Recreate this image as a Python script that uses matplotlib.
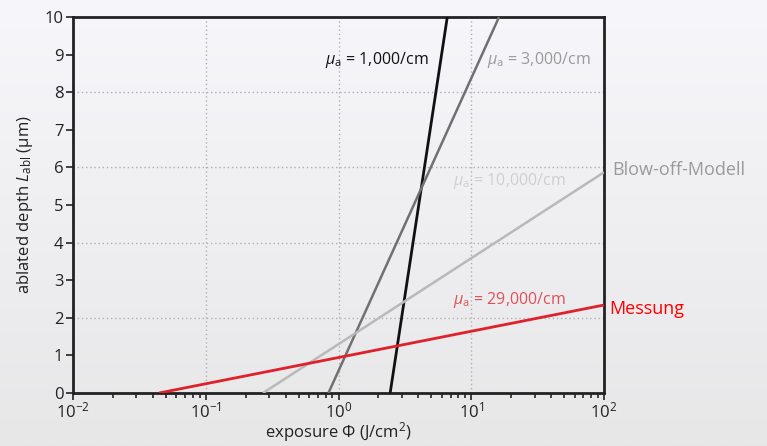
import numpy as np
import matplotlib
matplotlib.use("Agg")
import matplotlib.pyplot as plt
from matplotlib.colors import LinearSegmentedColormap
from matplotlib.ticker import LogLocator, NullFormatter

# Blow-off model lines: (exposure, depth) endpoints
mu_labels = ["1,000", "3,000", "10,000", "29,000"]
phi_start = [2.45, 0.84, 0.27, 0.0445]
depth_start = [0.0, 0.0, 0.0, 0.0]
phi_end = [6.6, 16.2, 100.0, 100.0]
depth_end = [10.0, 10.0, 5.87, 2.34]
line_colors = ["#111111", "#707070", "#b9b9b9", "#e0202a"]
text_colors = ["#111111", "#9a9a9a", "#cfcfcf", "#e0505a"]
# label anchor (exposure, depth) where each mu_a text starts
label_phi = [0.79, 13.1, 7.3, 7.3]
label_depth = [8.86, 8.86, 5.64, 2.47]

x_ticks = [1e-2, 1e-1, 1e0, 1e1, 1e2]
x_ticklabels = ["$10^{-2}$", "$10^{-1}$", "$10^{0}$", "$10^{1}$", "$10^{2}$"]
y_ticks = list(range(0, 11))

plt.rcParams["font.family"] = ["Open Sans", "DejaVu Sans"]
plt.rcParams["mathtext.fontset"] = "custom"
plt.rcParams["mathtext.rm"] = "Open Sans"
plt.rcParams["mathtext.it"] = "Open Sans:italic"

fig = plt.figure(figsize=(7.67, 4.46), dpi=100)

# soft vertical background gradient
bg = fig.add_axes([0, 0, 1, 1], zorder=-10)
grad = np.linspace(0, 1, 256).reshape(-1, 1)
cmap_bg = LinearSegmentedColormap.from_list("bg", ["#f7f7fb", "#e7e7e8"])
bg.imshow(grad, cmap=cmap_bg, aspect="auto", extent=[0, 1, 0, 1], origin="upper")
bg.axis("off")

ax = fig.add_axes([73 / 767, 1 - 393 / 446, 531 / 767, 376 / 446])
ax.set_facecolor("none")
ax.set_xscale("log")
ax.set_xlim(1e-2, 1e2)
ax.set_ylim(0, 10)

for i in range(len(mu_labels)):
    ax.plot([phi_start[i], phi_end[i]], [depth_start[i], depth_end[i]],
            color=line_colors[i], lw=2.0 if i in (0, 3) else 1.8,
            solid_capstyle="butt", zorder=3)
    ax.text(label_phi[i], label_depth[i],
            r"$\mu_{\mathrm{a}}$" + f" = {mu_labels[i]}/cm",
            color=text_colors[i], fontsize=11.5, ha="left", va="center")

# grid
for gx in [1e-1, 1e0, 1e1]:
    ax.axvline(gx, color="#b0b0b0", lw=1, ls=(0, (1, 2)), zorder=1)
for gy in [2, 4, 6, 8]:
    ax.axhline(gy, color="#b0b0b0", lw=1, ls=(0, (1, 2)), zorder=1)

ax.set_xticks(x_ticks)
ax.set_xticklabels(x_ticklabels)
ax.xaxis.set_minor_locator(LogLocator(base=10, subs=np.arange(2, 10)))
ax.xaxis.set_minor_formatter(NullFormatter())
ax.set_yticks(y_ticks)
ax.tick_params(axis="both", which="major", direction="out", length=5, width=1.2,
               labelsize=12, colors="#222222", pad=2)
ax.tick_params(axis="x", which="major", pad=1)
ax.tick_params(axis="x", which="minor", direction="out", length=3.5, width=1.2,
               colors="#222222")
for s in ax.spines.values():
    s.set_linewidth(2)
    s.set_color("#222222")

ax.set_xlabel(r"exposure $\mathit{\Phi}$ (J/cm$^2$)", fontsize=12, color="#222222",
              labelpad=-1)
ax.set_ylabel(r"ablated depth $\mathit{L}_{\mathrm{abl}}$ (µm)", fontsize=12,
              color="#222222", labelpad=7)

fig.text(612 / 767, 1 - 170 / 446, "Blow-off-Modell", color="#9a9a9a",
         fontsize=13, ha="left", va="center")
fig.text(609 / 767, 1 - 309 / 446, "Messung", color="#ff0000",
         fontsize=13, ha="left", va="center")

fig.savefig("out.png", dpi=100)
